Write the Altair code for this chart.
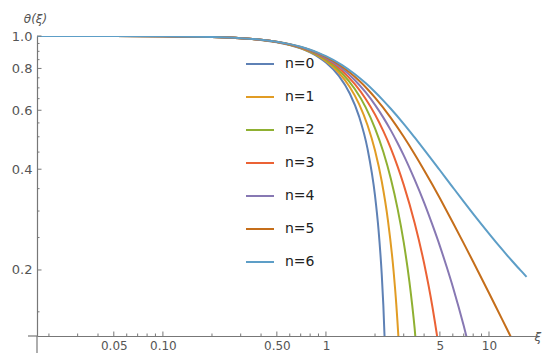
import altair as alt
import pandas as pd

# ---- data: Lane-Emden solutions theta_n(xi), read/estimated per curve ----
LABELS = ["n=0", "n=1", "n=2", "n=3", "n=4", "n=5", "n=6"]
COLORS = ["#5E81B5", "#E19C24", "#8FB032", "#EB6235", "#8778B3", "#C56E1A", "#5D9EC7"]

XI_N0 = [0.0169, 0.05, 0.1, 0.2, 0.3, 0.4, 0.5, 0.6, 0.7, 0.8, 0.9, 1.0, 1.2, 1.4, 1.6, 1.8, 2.0, 2.1, 2.2, 2.25, 2.3, 2.35]
TH_N0 = [1.0, 0.99958, 0.99833, 0.99333, 0.985, 0.97333, 0.95833, 0.94, 0.91833, 0.89333, 0.865, 0.83333, 0.76, 0.67333, 0.57333, 0.46, 0.33333, 0.265, 0.19333, 0.15625, 0.11833, 0.07958]

XI_N1 = [0.0169, 0.05, 0.1, 0.2, 0.3, 0.4, 0.5, 0.6, 0.7, 0.8, 0.9, 1.0, 1.2, 1.4, 1.6, 1.8, 2.0, 2.2, 2.4, 2.6, 2.7, 2.8, 2.9]
TH_N1 = [1.0, 0.99958, 0.99833, 0.99335, 0.98507, 0.97355, 0.95885, 0.94107, 0.92031, 0.89670, 0.87036, 0.84147, 0.77670, 0.70389, 0.62473, 0.54103, 0.45465, 0.36750, 0.28144, 0.19827, 0.15818, 0.11963, 0.08250]

XI_N2 = [0.0169, 0.05, 0.1, 0.2, 0.3, 0.4, 0.5, 0.6, 0.7, 0.8, 0.9, 1.0, 1.25, 1.5, 1.75, 2.0, 2.25, 2.5, 2.75, 3.0, 3.25, 3.5, 3.7]
TH_N2 = [1.0, 0.99958, 0.99834, 0.99336, 0.98513, 0.97375, 0.95935, 0.94209, 0.92217, 0.8998, 0.87521, 0.84865, 0.77533, 0.6954, 0.6130, 0.5298, 0.4501, 0.3746, 0.3051, 0.2417, 0.1847, 0.1338, 0.0973]

XI_N3 = [0.0169, 0.05, 0.1, 0.2, 0.3, 0.4, 0.5, 0.6, 0.7, 0.8, 0.9, 1.0, 1.25, 1.5, 1.75, 2.0, 2.25, 2.5, 2.75, 3.0, 3.5, 4.0, 4.5, 5.0, 5.5]
TH_N3 = [1.0, 0.99958, 0.99834, 0.99338, 0.98520, 0.97396, 0.95984, 0.94307, 0.92392, 0.90267, 0.87962, 0.85505, 0.7890, 0.7190, 0.6497, 0.5828, 0.5200, 0.4620, 0.4080, 0.3592, 0.2762, 0.2094, 0.1550, 0.1108, 0.0748]

XI_N4 = [0.0169, 0.05, 0.1, 0.2, 0.3, 0.4, 0.5, 0.6, 0.7, 0.8, 0.9, 1.0, 1.25, 1.5, 1.75, 2.0, 2.25, 2.5, 2.75, 3.0, 3.5, 4.0, 4.5, 5.0, 5.5, 6.0, 6.5, 7.0, 7.5]
TH_N4 = [1.0, 0.99958, 0.99834, 0.99340, 0.98527, 0.97416, 0.96031, 0.94401, 0.92559, 0.90534, 0.88363, 0.86086, 0.8009, 0.7392, 0.6796, 0.6228, 0.5704, 0.5225, 0.4790, 0.4398, 0.3722, 0.3178, 0.2726, 0.2357, 0.2044, 0.1782, 0.1556, 0.1362, 0.1193]

XI_N5 = [0.0169, 0.05, 0.1, 0.2, 0.3, 0.4, 0.5, 0.6, 0.7, 0.8, 0.9, 1.0, 1.2, 1.4, 1.6, 1.8, 2.0, 2.5, 3.0, 3.5, 4.0, 4.5, 5.0, 6.0, 7.0, 8.0, 9.0, 10.0, 11.0, 12.0, 13.0, 14.0, 15.0]
TH_N5 = [1.0, 0.99958, 0.99834, 0.99340, 0.98533, 0.97435, 0.96077, 0.94491, 0.92714, 0.90784, 0.88736, 0.86603, 0.82199, 0.77771, 0.73455, 0.69338, 0.65465, 0.56950, 0.5, 0.44353, 0.39736, 0.35921, 0.32733, 0.27735, 0.24019, 0.21160, 0.18898, 0.17066, 0.15555, 0.14286, 0.13207, 0.12279, 0.11471]

XI_N6 = [0.0169, 0.05, 0.1, 0.2, 0.3, 0.4, 0.5, 0.6, 0.7, 0.8, 0.9, 1.0, 1.25, 1.5, 1.75, 2.0, 2.25, 2.5, 3.0, 3.5, 4.0, 5.0, 6.0, 7.0, 8.0, 9.0, 10.0, 11.0, 12.0, 13.0, 14.0, 15.0, 16.0, 17.0]
TH_N6 = [1.0, 0.99958, 0.99834, 0.99341, 0.98539, 0.97454, 0.96118, 0.94577, 0.92862, 0.91019, 0.89076, 0.87085, 0.8202, 0.7700, 0.7234, 0.6803, 0.6414, 0.6063, 0.5464, 0.4976, 0.4580, 0.3971, 0.3532, 0.3201, 0.2943, 0.2736, 0.2567, 0.2426, 0.2307, 0.2205, 0.2116, 0.2038, 0.1970, 0.1908]

X_MAJOR = [0.05, 0.1, 0.5, 1, 5, 10]
X_MINOR = [0.02, 0.03, 0.04, 0.06, 0.07, 0.08, 0.09, 0.2, 0.3, 0.4, 0.6, 0.7, 0.8, 0.9, 2, 3, 4, 6, 7, 8, 9]
Y_MAJOR = [0.2, 0.4, 0.6, 0.8, 1.0]
Y_MINOR = [0.15, 0.25, 0.3, 0.35, 0.45, 0.5, 0.55, 0.65, 0.7, 0.75, 0.85, 0.9, 0.95]

X_DOMAIN = [0.0169, 19.7]
Y_DOMAIN = [0.127, 1.0]

series = [XI_N0, XI_N1, XI_N2, XI_N3, XI_N4, XI_N5, XI_N6]
thetas = [TH_N0, TH_N1, TH_N2, TH_N3, TH_N4, TH_N5, TH_N6]
rows = []
for lab, xs_, ts_ in zip(LABELS, series, thetas):
    for x, t in zip(xs_, ts_):
        rows.append({"xi": x, "theta": t, "series": lab})
df = pd.DataFrame(rows)

W, H = 500, 300
AX = "#777777"
LBL = "#555555"
FONT = "DejaVu Sans"

xs = alt.Scale(type="log", domain=X_DOMAIN, nice=False)
ys = alt.Scale(type="log", domain=Y_DOMAIN, nice=False)

AXIS_X = alt.Axis(
    values=X_MAJOR, labelExpr="datum.value < 1 ? format(datum.value, '.2f') : format(datum.value, 'd')",
    ticks=False, grid=False, domainColor=AX, domainWidth=1.2,
    labelFont=FONT, labelFontSize=12, labelColor=LBL, labelPadding=4, labelFlush=False,
    title="ξ", titleX=497, titleY=0, titleAlign="left", titleBaseline="middle",
    titleFont=FONT, titleFontSize=12, titleFontWeight="normal", titleFontStyle="italic", titleColor=LBL)
AXIS_Y = alt.Axis(
    values=Y_MAJOR, format=".1f", ticks=False, grid=False, domainColor=AX, domainWidth=1.2,
    labelFont=FONT, labelFontSize=13, labelColor=LBL, labelPadding=5,
    title="θ(ξ)", titleAngle=0, titleX=-2, titleY=-18, titleAlign="center", titleBaseline="middle",
    titleFont=FONT, titleFontSize=12, titleFontWeight="normal", titleFontStyle="italic", titleColor=LBL)

X_ENC = alt.X("xi:Q", scale=xs, axis=AXIS_X)
Y_ENC = alt.Y("theta:Q", scale=ys, axis=AXIS_Y)

lines = alt.Chart(df).mark_line(strokeWidth=2, clip=True, interpolate="monotone").encode(
    x=X_ENC, y=Y_ENC,
    color=alt.Color("series:N", sort=LABELS, scale=alt.Scale(domain=LABELS, range=COLORS),
                    legend=alt.Legend(title=None, orient="none", legendX=208, legendY=13,
                                      symbolType="stroke", symbolSize=784, symbolStrokeWidth=2,
                                      labelFont=FONT, labelFontSize=14, labelColor="#222222",
                                      rowPadding=11, labelOffset=10)),
)

xmaj = alt.Chart(pd.DataFrame({"xi": X_MAJOR})).mark_rule(color=AX, strokeWidth=1).encode(
    x=X_ENC, y=alt.value(H), y2=alt.value(H - 4.5))
xmin = alt.Chart(pd.DataFrame({"xi": X_MINOR})).mark_rule(color=AX, strokeWidth=1).encode(
    x=X_ENC, y=alt.value(H), y2=alt.value(H - 2.5))
ymaj = alt.Chart(pd.DataFrame({"theta": Y_MAJOR})).mark_rule(color=AX, strokeWidth=1).encode(
    y=Y_ENC, x=alt.value(0), x2=alt.value(4.5))
ymin = alt.Chart(pd.DataFrame({"theta": Y_MINOR})).mark_rule(color=AX, strokeWidth=1).encode(
    y=Y_ENC, x=alt.value(0), x2=alt.value(2.5))

one = pd.DataFrame({"a": [0]})
xext = alt.Chart(one).mark_rule(color=AX, strokeWidth=1.2).encode(
    x=alt.value(-9), x2=alt.value(0), y=alt.value(H))
yext = alt.Chart(one).mark_rule(color=AX, strokeWidth=1.2).encode(
    x=alt.value(0), y=alt.value(H), y2=alt.value(H + 18))

chart = alt.layer(lines, xmaj, xmin, ymaj, ymin, xext, yext).properties(
    width=W, height=H,
    padding={"left": 29, "top": 28, "right": 8, "bottom": 17},
    autosize=alt.AutoSizeParams(type="none"),
).configure_view(strokeWidth=0)

chart.save("out.html", embed_options={"renderer": "svg", "actions": False})
